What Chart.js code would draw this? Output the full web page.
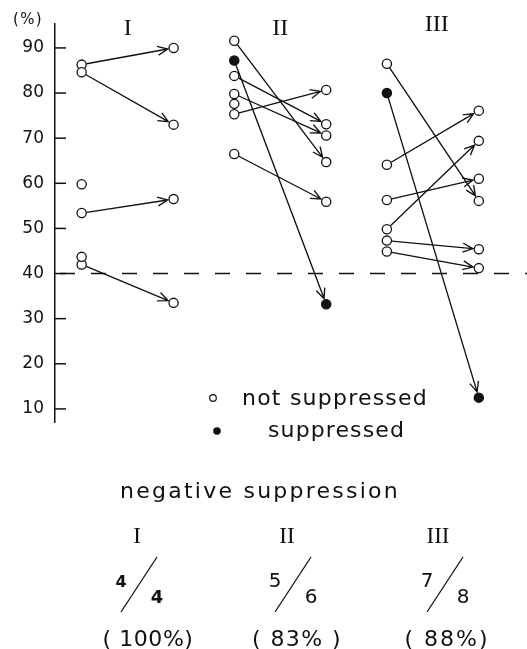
<!DOCTYPE html>
<html>
<head>
<meta charset="utf-8">
<script src="https://cdn.jsdelivr.net/npm/chart.js@4"></script>
<style>
  html, body { margin: 0; padding: 0; background: #fff; }
  #wrap { width: 527px; height: 649px; position: relative; }
</style>
</head>
<body>
<div id="wrap"><canvas id="chart" width="527" height="649"></canvas></div>
<script>
// group labels
const groupLabels = ['I', 'II', 'III'];

// values (%) before -> after; null = no after value
const beforeI = [86.3, 84.6, 53.4, 42.0, 59.8, 43.7];
const afterI = [90.0, 73.0, 56.5, 33.5, null, null];
const suppressedI = [false, false, false, false, false, false];

const beforeII = [91.6, 87.2, 83.8, 79.8, 75.3, 66.5, 77.6];
const afterII = [64.7, 33.2, 73.1, 70.6, 80.7, 55.9, null];
const suppressedII = [false, true, false, false, false, false, false];

const beforeIII = [86.5, 80.0, 64.1, 56.3, 49.8, 47.3, 44.9];
const afterIII = [56.1, 12.5, 76.1, 61.0, 69.4, 45.4, 41.2];
const suppressedIII = [false, true, false, false, false, false, false];

const yTicks = [10, 20, 30, 40, 50, 60, 70, 80, 90];
const threshold = 40;

// negative suppression summary
const fracNum = ['4', '5', '7'];
const fracDen = ['4', '6', '8'];
const percentLabels = ['( 100%)', '( 83% )', '( 88%)'];

const groups = [
    { before: beforeI, after: afterI, supp: suppressedI },
    { before: beforeII, after: afterII, supp: suppressedII },
    { before: beforeIII, after: afterIII, supp: suppressedIII }
];

const X_GAP = 1.66; // distance between groups, in x units
function xOf(g, after) { return g * X_GAP + (after ? 1 : 0); }

const openPts = [];
const filledPts = [];
groups.forEach((grp, g) => {
    grp.before.forEach((v, i) => {
        const list = grp.supp[i] ? filledPts : openPts;
        list.push({ x: xOf(g, false), y: v });
        if (grp.after[i] != null) list.push({ x: xOf(g, true), y: grp.after[i] });
    });
});

const SANS = '"DejaVu Sans", sans-serif';
const SERIF = '"Liberation Serif", "DejaVu Serif", serif';

// draw text stretched/squeezed to a given width with letter spacing
function fitText(ctx, text, x, y, width, font, align) {
    ctx.font = font;
    ctx.letterSpacing = '0px';
    const w = ctx.measureText(text).width;
    const sp = text.length > 1 ? (width - w) / text.length : 0;
    ctx.letterSpacing = sp + 'px';
    ctx.textAlign = 'left';
    let x0 = x;
    if (align === 'center') x0 = x - width / 2;
    ctx.fillText(text, x0, y);
    ctx.letterSpacing = '0px';
}

function arrow(ctx, x0, y0, x1, y1, r) {
    const a = Math.atan2(y1 - y0, x1 - x0);
    const sx = x0 + Math.cos(a) * r, sy = y0 + Math.sin(a) * r;
    const ex = x1 - Math.cos(a) * (r + 1), ey = y1 - Math.sin(a) * (r + 1);
    ctx.beginPath();
    ctx.moveTo(sx, sy);
    ctx.lineTo(ex, ey);
    const len = 11, spread = 0.42;
    ctx.moveTo(ex - Math.cos(a - spread) * len, ey - Math.sin(a - spread) * len);
    ctx.lineTo(ex, ey);
    ctx.lineTo(ex - Math.cos(a + spread) * len, ey - Math.sin(a + spread) * len);
    ctx.stroke();
}

const pairsPlugin = {
    id: 'pairs',
    beforeDatasetsDraw(chart) {
        const { ctx, chartArea, scales: { x, y } } = chart;
        ctx.save();
        ctx.strokeStyle = '#111';
        // 40% line
        ctx.lineWidth = 1.5;
        ctx.setLineDash([15, 16]);
        const ty = y.getPixelForValue(threshold);
        ctx.beginPath();
        ctx.moveTo(chartArea.left + 5, ty);
        ctx.lineTo(chart.width, ty);
        ctx.stroke();
        ctx.setLineDash([]);
        // arrows
        ctx.lineWidth = 1.35;
        groups.forEach((grp, g) => {
            grp.before.forEach((v, i) => {
                if (grp.after[i] == null) return;
                arrow(ctx,
                    x.getPixelForValue(xOf(g, false)), y.getPixelForValue(v),
                    x.getPixelForValue(xOf(g, true)), y.getPixelForValue(grp.after[i]), 5);
            });
        });
        ctx.restore();
    },
    afterDraw(chart) {
        const { ctx, chartArea, scales: { x, y } } = chart;
        ctx.save();
        ctx.strokeStyle = '#111';
        ctx.fillStyle = '#111';
        // tick marks inside the axis
        ctx.lineWidth = 1.5;
        yTicks.forEach(v => {
            const py = y.getPixelForValue(v);
            ctx.beginPath();
            ctx.moveTo(chartArea.left, py);
            ctx.lineTo(chartArea.left + 11, py);
            ctx.stroke();
        });
        // unit + group numerals
        ctx.textBaseline = 'alphabetic';
        fitText(ctx, '(%)', 28, 24, 30, '15px ' + SANS, 'center');
        ctx.font = '24px ' + SERIF;
        ctx.textAlign = 'center';
        groupLabels.forEach((lab, g) => {
            const cx = x.getPixelForValue(xOf(g, false) + 0.5);
            ctx.fillText(lab, cx + (g === 2 ? 4 : 0), g === 2 ? 31 : 35);
        });

        // legend
        ctx.lineWidth = 1.2;
        ctx.beginPath();
        ctx.arc(213, 398, 3.3, 0, Math.PI * 2);
        ctx.stroke();
        fitText(ctx, 'not suppressed', 242, 405, 186, '22px ' + SANS);
        ctx.beginPath();
        ctx.arc(217, 431, 3.8, 0, Math.PI * 2);
        ctx.fill();
        fitText(ctx, 'suppressed', 268, 437, 137, '22px ' + SANS);

        // summary
        fitText(ctx, 'negative suppression', 120, 498, 280, '22px ' + SANS);
        const cols = [139, 293, 445];
        const romanX = [137, 287, 438];
        const pctX = [148, 297, 447];
        const pctW = [91, 90, 85];
        cols.forEach((cx, i) => {
            ctx.font = '23px ' + SERIF;
            ctx.textAlign = 'center';
            ctx.fillText(groupLabels[i], romanX[i], 543);
            ctx.font = (i === 0 ? 'bold 16px ' : '20px ') + SANS;
            ctx.fillText(fracNum[i], cx - 18, 587);
            ctx.font = (i === 0 ? 'bold 18px ' : '20px ') + SANS;
            ctx.fillText(fracDen[i], cx + 18, 603);
            ctx.lineWidth = 1.3;
            ctx.beginPath();
            ctx.moveTo(cx - 18, 612);
            ctx.lineTo(cx + 18, 557);
            ctx.stroke();
            fitText(ctx, percentLabels[i], pctX[i], 646, pctW[i], '22px ' + SANS, 'center');
        });
        ctx.restore();
    }
};

new Chart(document.getElementById('chart'), {
    type: 'scatter',
    data: {
        datasets: [
            {
                label: 'not suppressed',
                data: openPts,
                pointRadius: 4.6,
                pointBorderWidth: 1.3,
                borderColor: '#111',
                backgroundColor: '#fff'
            },
            {
                label: 'suppressed',
                data: filledPts,
                pointRadius: 4.6,
                pointBorderWidth: 1.3,
                borderColor: '#111',
                backgroundColor: '#111'
            }
        ]
    },
    options: {
        responsive: false,
        animation: false,
        layout: { padding: { top: 24, bottom: 227, left: 0, right: 0 } },
        plugins: {
            legend: { display: false },
            tooltip: { enabled: false }
        },
        scales: {
            x: {
                type: 'linear',
                display: false,
                min: -0.29,
                max: 4.78
            },
            y: {
                min: 7.1,
                max: 95.3,
                grid: { display: false, drawTicks: false },
                border: { display: true, color: '#111', width: 1.5 },
                afterBuildTicks: scale => { scale.ticks = yTicks.map(v => ({ value: v })); },
                afterFit: scale => { scale.width = 55; },
                ticks: {
                    padding: 11,
                    color: '#111',
                    font: { family: 'DejaVu Sans', size: 17 }
                }
            }
        }
    },
    plugins: [pairsPlugin]
});
</script>
</body>
</html>
